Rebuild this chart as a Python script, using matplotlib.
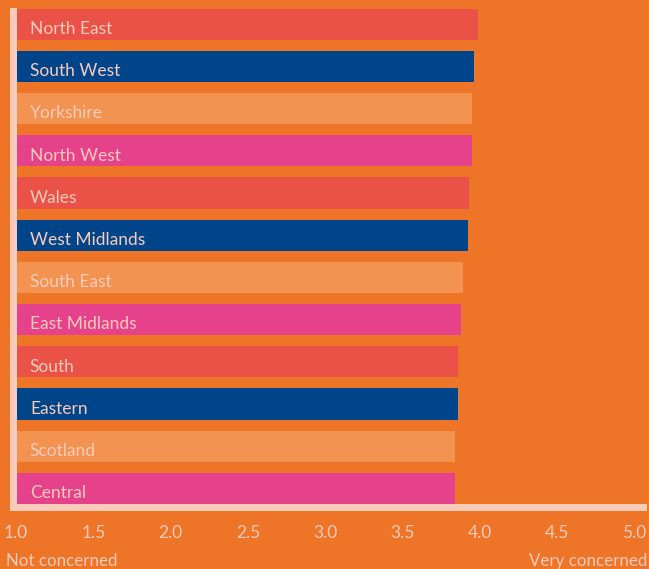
import matplotlib.pyplot as plt
from matplotlib.patches import Rectangle

# Regions, top to bottom, and their mean concern score (1-5)
regions = ['North East', 'South West', 'Yorkshire', 'North West', 'Wales',
           'West Midlands', 'South East', 'East Midlands', 'South', 'Eastern',
           'Scotland', 'Central']
scores = [3.99, 3.96, 3.95, 3.95, 3.93, 3.92, 3.89, 3.88, 3.86, 3.86, 3.84, 3.84]
ticks = [1.0, 1.5, 2.0, 2.5, 3.0, 3.5, 4.0, 4.5, 5.0]

bg = '#ee7428'
light = '#f9cbbb'
palette = ['#ea5147', '#00458a', '#f39351', '#e6428c']
colors = [palette[i % 4] for i in range(len(regions))]

W, H = 649, 569
fig = plt.figure(figsize=(W/100, H/100), dpi=100, facecolor=bg)
# axes placed in pixel terms
x0, x1 = 16, 634.5
y_top, y_bot = 8.5, 504
ax = fig.add_axes([x0/W, (H-y_bot)/H, (x1-x0)/W, (y_bot-y_top)/H])
ax.set_facecolor(bg)

ypos = list(range(len(regions)))
ax.barh(ypos, [s - 1 for s in scores], left=1, height=0.74, color=colors)
ax.set_xlim(1, 5)
ax.set_ylim(len(regions) - 1 + 0.37, -0.37)

for y, name in zip(ypos, regions):
    ax.annotate(name, xy=(1, y), xytext=(10, -3.5), textcoords='offset points',
                va='center', ha='left', color=light, fontsize=12.5, family='Lato')

for s in ax.spines.values():
    s.set_visible(False)
ax.set_yticks([])
ax.set_xticks(ticks)
ax.set_xticklabels([f'{t:.1f}' for t in ticks], color=light, fontsize=12.5, family='Lato')
ax.tick_params(axis='x', length=0, pad=15)

# axis frame (left and bottom bands)
fig.add_artist(Rectangle((10/W, (H-511)/H), 7/W, 503/H, transform=fig.transFigure,
                         color=light, lw=0))
fig.add_artist(Rectangle((10/W, (H-511)/H), 637/W, 7/H, transform=fig.transFigure,
                         color=light, lw=0))

fig.text(6/W, (H-566)/H, 'Not concerned', color=light, fontsize=12.2, family='Lato',
         ha='left', va='baseline')
fig.text(647/W, (H-566)/H, 'Very concerned', color=light, fontsize=12.2, family='Lato',
         ha='right', va='baseline')

fig.savefig('out.png', dpi=100, facecolor=bg)
